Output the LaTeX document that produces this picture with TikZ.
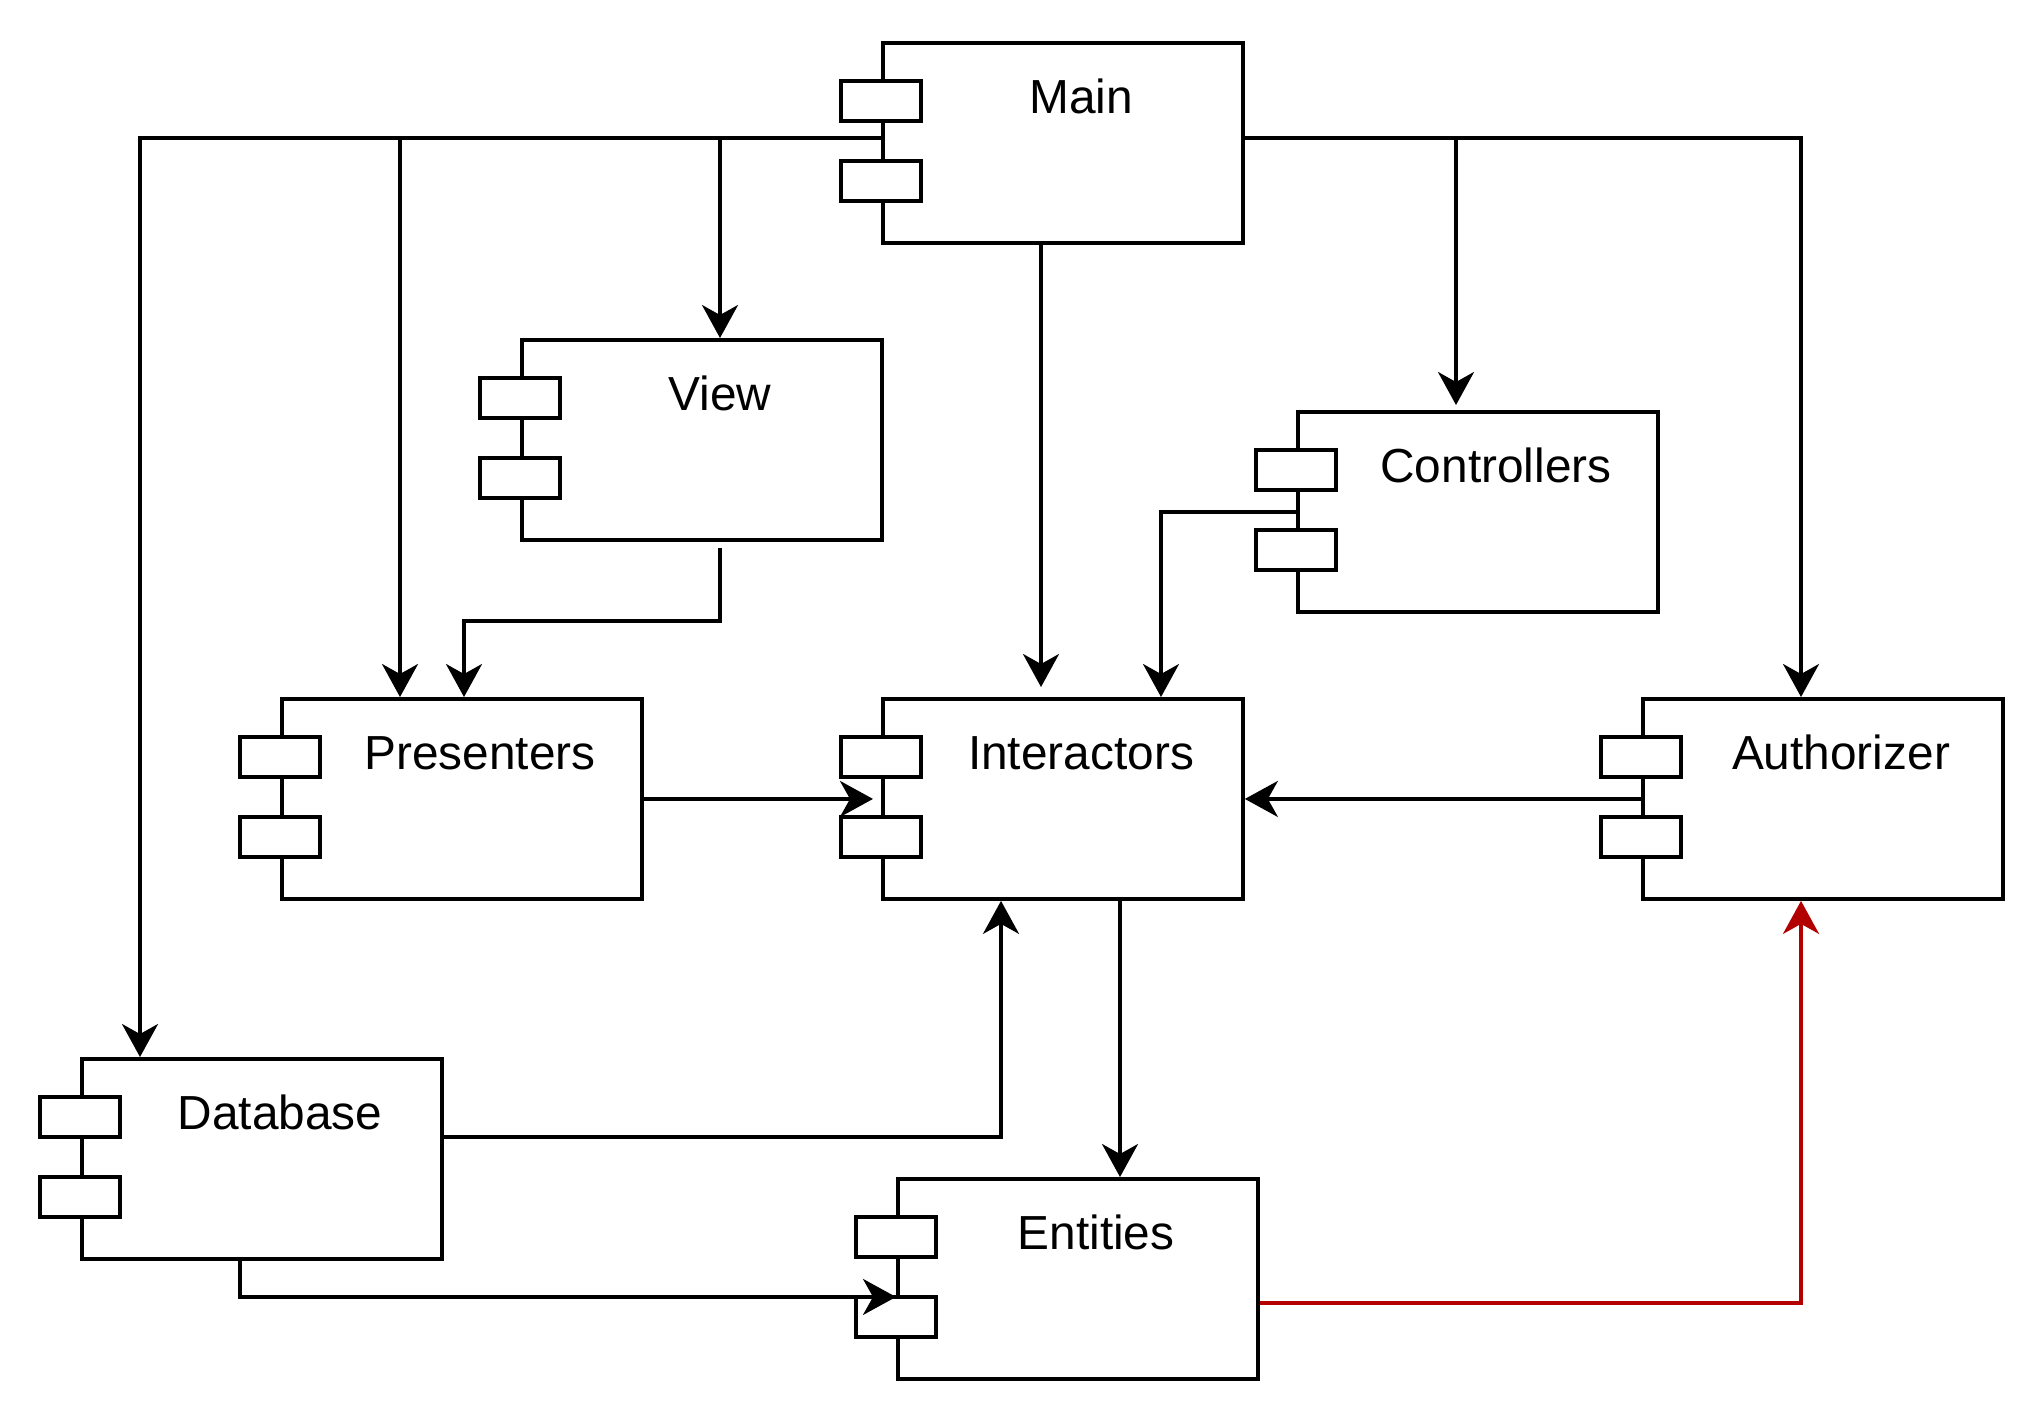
\documentclass[tikz,border=0pt]{standalone}
\usepackage{fontspec}
\setmainfont{Liberation Sans}
\usetikzlibrary{arrows.meta}
\definecolor{darkred}{HTML}{B20000}
\begin{document}
\begin{tikzpicture}[font=\fontsize{13.6}{16}\selectfont]
    % Styles
    \tikzstyle{component} = [rectangle, draw, line width=1.1pt, fill=white,
        minimum width=3.6cm, minimum height=2cm, anchor=north west, inner sep=0pt]
    \tikzstyle{port} = [draw, line width=1.1pt, fill=white]
    \tikzstyle{arrow} = [line width=1pt, -{Stealth[length=0.33cm, width=0.36cm, inset=0.1cm]}]
    \tikzstyle{redarrow} = [arrow, draw=darkred, -{Stealth[length=0.33cm, width=0.36cm, inset=0.1cm, darkred]}]

    \useasboundingbox (0,0) rectangle (20.44,-14.20);

    % === COMPONENTS ===
    \node [component] (main) at (8.81,-0.41) {};
    \node [component] (view) at (5.2,-3.38) {};
    \node [component] (controllers) at (12.96,-4.10) {};
    \node [component] (presenters) at (2.8,-6.97) {};
    \node [component] (interactors) at (8.81,-6.97) {};
    \node [component] (authorizer) at (16.41,-6.97) {};
    \node [component] (database) at (0.8,-10.57) {};
    \node [component] (entities) at (8.96,-11.77) {};

    % === PORTS + LABELS ===
    \foreach \c/\t in {main/Main, view/View, controllers/Controllers, presenters/Presenters,
        interactors/Interactors, authorizer/Authorizer, database/Database, entities/Entities} {
        \draw [port] ([xshift=-0.4cm, yshift=-0.4cm]\c.north west) rectangle ++(0.8,-0.4);
        \draw [port] ([xshift=-0.4cm, yshift=-1.2cm]\c.north west) rectangle ++(0.8,-0.4);
        \node [anchor=base] (\c lbl) at ([xshift=2cm, yshift=-0.72cm]\c.north west) {\t};
    }

    % === ARROWS: from Main ===
    \draw [arrow] ([yshift=0.05cm]main.west) -| ([xshift=0.6cm]database.north west);
    \draw [arrow] ([yshift=0.05cm]main.west) -| ([xshift=1.2cm]presenters.north west);
    \draw [arrow] ([yshift=0.05cm]main.west) -| ([xshift=2cm]view.north west);
    \draw [arrow] ([xshift=1.6cm]main.south west) -- ([xshift=1.6cm, yshift=0.1cm]interactors.north west);
    \draw [arrow] ([yshift=0.05cm]main.east) -| ([xshift=1.6cm, yshift=0.05cm]controllers.north west);
    \draw [arrow] ([yshift=0.05cm]main.east) -| ([xshift=1.6cm]authorizer.north west);

    % === ARROWS: into Interactors ===
    \draw [arrow] ([xshift=2cm, yshift=-0.06cm]view.south west) -- ++(0,-0.73) -| ([xshift=1.84cm]presenters.north west);
    \draw [arrow] (controllers.west) -| ([xshift=2.8cm]interactors.north west);
    \draw [arrow] (presenters.east) -- ([xshift=-0.08cm]interactors.west);
    \draw [arrow] (authorizer.west) -- (interactors.east);
    \draw [arrow] ([yshift=0.22cm]database.east) -| ([xshift=1.2cm]interactors.south west);

    % === ARROWS: into Entities ===
    \draw [arrow] ([xshift=2.39cm]interactors.south west) -- ([xshift=2.39cm]interactors.south west |- entities.north);
    \draw [arrow] ([xshift=1.6cm]database.south west) |- ([yshift=-0.18cm]entities.west);
    \draw [redarrow] ([yshift=-0.24cm]entities.east) -| ([xshift=1.6cm]authorizer.south west);
\end{tikzpicture}
\end{document}
